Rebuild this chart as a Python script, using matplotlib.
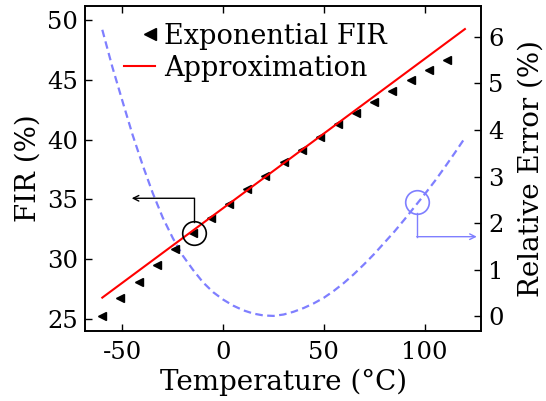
import matplotlib.pyplot as plt
from matplotlib.legend_handler import HandlerLine2D

plt.rcParams['font.family'] = ['DejaVu Serif']
plt.rcParams['axes.unicode_minus'] = False

# data
temp_exp = [-60, -51, -42, -33, -24, -15, -6, 3, 12, 21, 30, 39, 48, 57, 66, 75, 84, 93, 102, 111]
fir_exp = [25.25, 26.73, 28.12, 29.52, 30.83, 32.17, 33.42, 34.59, 35.84, 36.96,
           38.10, 39.13, 40.24, 41.30, 42.20, 43.17, 44.09, 44.98, 45.88, 46.71]
temp_approx = [-60, 120]
fir_approx = [26.78, 49.27]
temp_err = [-60, -55, -50, -45, -40, -35, -30, -25, -20, -15, -10, -5, 0, 5, 10, 15, 20, 25,
            30, 35, 40, 45, 50, 55, 60, 65, 70, 75, 80, 85, 90, 95, 100, 105, 110, 115, 120]
rel_err = [6.15, 5.35, 4.62, 3.90, 3.25, 2.65, 2.12, 1.68, 1.30, 1.00, 0.73, 0.52, 0.36, 0.23,
           0.13, 0.06, 0.02, 0.01, 0.04, 0.10, 0.18, 0.28, 0.40, 0.55, 0.72, 0.91, 1.12, 1.34,
           1.58, 1.82, 2.08, 2.35, 2.62, 2.90, 3.20, 3.51, 3.83]

blue = '#7f7fff'


class RightMarker(HandlerLine2D):
    # single marker pushed to the right end of the legend handle
    # (handle has no line, so a short segment centred on the wanted spot is enough)
    def get_xdata(self, legend, xdescent, ydescent, width, height, fontsize):
        xm = -xdescent + width - 0.2 * fontsize
        return [xm - 1, xm + 1], [xm]


fig = plt.figure(figsize=(5.46, 4.01), dpi=100)
ax = fig.add_subplot(111)
fig.subplots_adjust(left=0.156, right=0.881, bottom=0.175, top=0.985)
ax2 = ax.twinx()

ax2.plot(temp_err, rel_err, color=blue, lw=1.6, dashes=(3.4, 2))
tri, = ax.plot(temp_exp, fir_exp, '<', color='k', ms=5.5, label='Exponential FIR')
red, = ax.plot(temp_approx, fir_approx, '-', color='#ff0000', lw=1.5, label='Approximation')

ax.set_zorder(ax2.get_zorder() + 1)
ax.patch.set_visible(False)

# annotations : circle + arrow towards the matching axis
ax.plot(-14.4, 32.17, 'o', ms=17, mfc='none', mec='k', mew=1.2)
ax.plot([-14.4, -14.4], [33.15, 35.1], color='k', lw=1)
ax.annotate('', xy=(-45.4, 35.1), xytext=(-14.4, 35.1),
            arrowprops=dict(arrowstyle='->', color='k', lw=1, shrinkA=0, shrinkB=0))
ax2.plot(96.1, 2.46, 'o', ms=17, mfc='none', mec=blue, mew=1.2)
ax2.plot([96.1, 96.1], [2.21, 1.71], color=blue, lw=1)
ax2.annotate('', xy=(125.9, 1.71), xytext=(96.1, 1.71),
             arrowprops=dict(arrowstyle='->', color=blue, lw=1, shrinkA=0, shrinkB=0))

ax.set_xlim(-68.5, 128)
ax.set_ylim(24.0, 51.2)
ax2.set_ylim(-0.31, 6.66)
ax.set_xticks([-50, 0, 50, 100])
ax.set_yticks([25, 30, 35, 40, 45, 50])
ax2.set_yticks([0, 1, 2, 3, 4, 5, 6])

ax.tick_params(axis='x', direction='in', top=True, length=5, width=1, labelsize=17.5, pad=7)
ax.tick_params(axis='y', direction='in', length=5, width=1, labelsize=17.5, pad=5)
ax2.tick_params(axis='y', direction='in', length=5, width=1, labelsize=17.5, pad=5)
for a in (ax, ax2):
    for s in a.spines.values():
        s.set_linewidth(1.2)

ax.set_xlabel('Temperature (°C)', fontsize=20, labelpad=4)
ax.set_ylabel('FIR (%)', fontsize=20, labelpad=4)
ax2.set_ylabel('Relative Error (%)', fontsize=20, labelpad=10)

ax.legend(handles=[tri, red], loc='upper left', bbox_to_anchor=(0.098, 0.948),
          frameon=False, fontsize=19.5, borderpad=0, borderaxespad=0,
          handlelength=1.15, handletextpad=0.33, labelspacing=0.17, markerscale=1.7,
          handler_map={tri: RightMarker(numpoints=1)})

fig.savefig('out.png', dpi=100)
